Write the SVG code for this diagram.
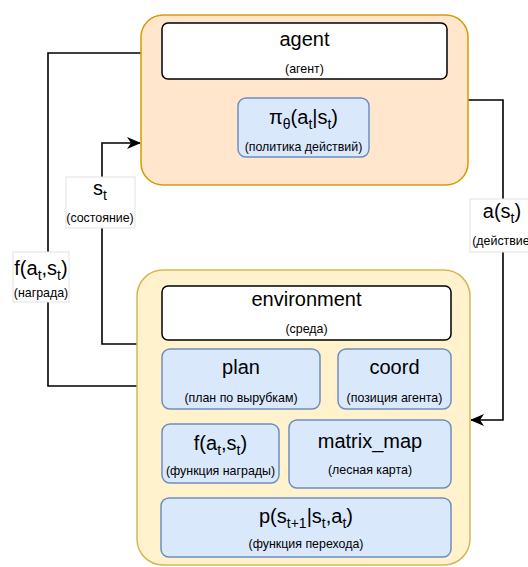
<svg xmlns="http://www.w3.org/2000/svg" width="528" height="567" viewBox="0 0 528 567">
  <defs>
    <marker id="arrow" viewBox="0 0 14 12" refX="13" refY="6" markerWidth="14" markerHeight="12" orient="auto" markerUnits="userSpaceOnUse">
      <path d="M0,0 L14,6 L0,12 L4,6 z" fill="#000"/>
    </marker>
    <style>
      text { font-family: "Liberation Sans", Arial, Helvetica, sans-serif; fill: #000; text-anchor: middle; }
      .big { font-size: 20px; }
      .small { font-size: 12.4px; }
      .sub { font-size: 14px; }
      .agent-box { fill: #ffe6cc; stroke: #d79b00; stroke-width: 1.5; }
      .env-box { fill: #fff2cc; stroke: #d6b656; stroke-width: 1.5; }
      .title-box { fill: #ffffff; stroke: #000000; stroke-width: 1.5; }
      .blue-box { fill: #dae8fc; stroke: #6c8ebf; stroke-width: 1.5; }
      .edge { fill: none; stroke: #000; stroke-width: 1.6; }
      .edge-label { fill: #ffffff; stroke: #e2e2e2; stroke-width: 1; }
    </style>
  </defs>

  <!-- connectors -->
  <g id="connectors">
    <!-- reward: environment -> agent -->
    <path class="edge" d="M137,386 H48 V53 H141"/>
    <!-- state: environment -> agent -->
    <path class="edge" d="M137,344 H102 V143 H140" marker-end="url(#arrow)"/>
    <!-- action: agent -> environment -->
    <path class="edge" d="M468,100 H503 V420 H471" marker-end="url(#arrow)"/>

    <g id="label-state">
      <rect class="edge-label" x="66" y="177" width="69" height="51"/>
      <text class="big" x="100" y="195">s<tspan class="sub" dy="5">t</tspan></text>
      <text class="small" x="100" y="222">(состояние)</text>
    </g>
    <g id="label-reward">
      <rect class="edge-label" x="13" y="252" width="56" height="50"/>
      <text class="big" x="41" y="275">f(a<tspan class="sub" dy="5">t</tspan><tspan dy="-5">,s</tspan><tspan class="sub" dy="5">t</tspan><tspan dy="-5">)</tspan></text>
      <text class="small" x="41" y="297">(награда)</text>
    </g>
    <g id="label-action">
      <rect class="edge-label" x="470" y="199" width="70" height="53"/>
      <text class="big" x="502" y="218">a(s<tspan class="sub" dy="5">t</tspan><tspan dy="-5">)</tspan></text>
      <text class="small" x="503" y="245">(действие)</text>
    </g>
  </g>

  <!-- agent -->
  <g id="agent">
    <rect class="agent-box" x="141" y="15" width="327" height="170" rx="22" ry="22"/>
    <g id="agent-title">
      <rect class="title-box" x="162" y="23" width="285" height="56" rx="6" ry="6"/>
      <text class="big" x="304.5" y="46">agent</text>
      <text class="small" x="304.5" y="73">(агент)</text>
    </g>
    <g id="policy">
      <rect class="blue-box" x="238" y="98" width="131" height="59" rx="8" ry="8"/>
      <text class="big" x="303.5" y="124">π<tspan class="sub" dy="5">θ</tspan><tspan dy="-5">(a</tspan><tspan class="sub" dy="5">t</tspan><tspan dy="-5">|s</tspan><tspan class="sub" dy="5">t</tspan><tspan dy="-5">)</tspan></text>
      <text class="small" x="303.5" y="151">(политика действий)</text>
    </g>
  </g>

  <!-- environment -->
  <g id="environment">
    <rect class="env-box" x="137" y="270" width="333" height="295" rx="26" ry="26"/>
    <g id="environment-title">
      <rect class="title-box" x="162" y="286" width="289" height="54" rx="6" ry="6"/>
      <text class="big" x="306.5" y="306">environment</text>
      <text class="small" x="306.5" y="333">(среда)</text>
    </g>
    <g id="plan">
      <rect class="blue-box" x="162" y="349" width="158" height="60" rx="8" ry="8"/>
      <text class="big" x="241" y="374">plan</text>
      <text class="small" x="241" y="402">(план по вырубкам)</text>
    </g>
    <g id="coord">
      <rect class="blue-box" x="338" y="349" width="113" height="60" rx="8" ry="8"/>
      <text class="big" x="394.5" y="374">coord</text>
      <text class="small" x="394.5" y="402">(позиция агента)</text>
    </g>
    <g id="reward-fn">
      <rect class="blue-box" x="162" y="424" width="117" height="59" rx="8" ry="8"/>
      <text class="big" x="220.5" y="450">f(a<tspan class="sub" dy="5">t</tspan><tspan dy="-5">,s</tspan><tspan class="sub" dy="5">t</tspan><tspan dy="-5">)</tspan></text>
      <text class="small" x="220.5" y="475">(функция награды)</text>
    </g>
    <g id="matrix-map">
      <rect class="blue-box" x="289" y="420" width="162" height="68" rx="8" ry="8"/>
      <text class="big" x="370" y="448">matrix_map</text>
      <text class="small" x="370" y="474">(лесная карта)</text>
    </g>
    <g id="transition">
      <rect class="blue-box" x="161" y="498" width="290" height="59" rx="8" ry="8"/>
      <text class="big" x="306" y="523">p(s<tspan class="sub" dy="5">t+1</tspan><tspan dy="-5">|s</tspan><tspan class="sub" dy="5">t</tspan><tspan dy="-5">,a</tspan><tspan class="sub" dy="5">t</tspan><tspan dy="-5">)</tspan></text>
      <text class="small" x="306" y="548">(функция перехода)</text>
    </g>
  </g>
</svg>
